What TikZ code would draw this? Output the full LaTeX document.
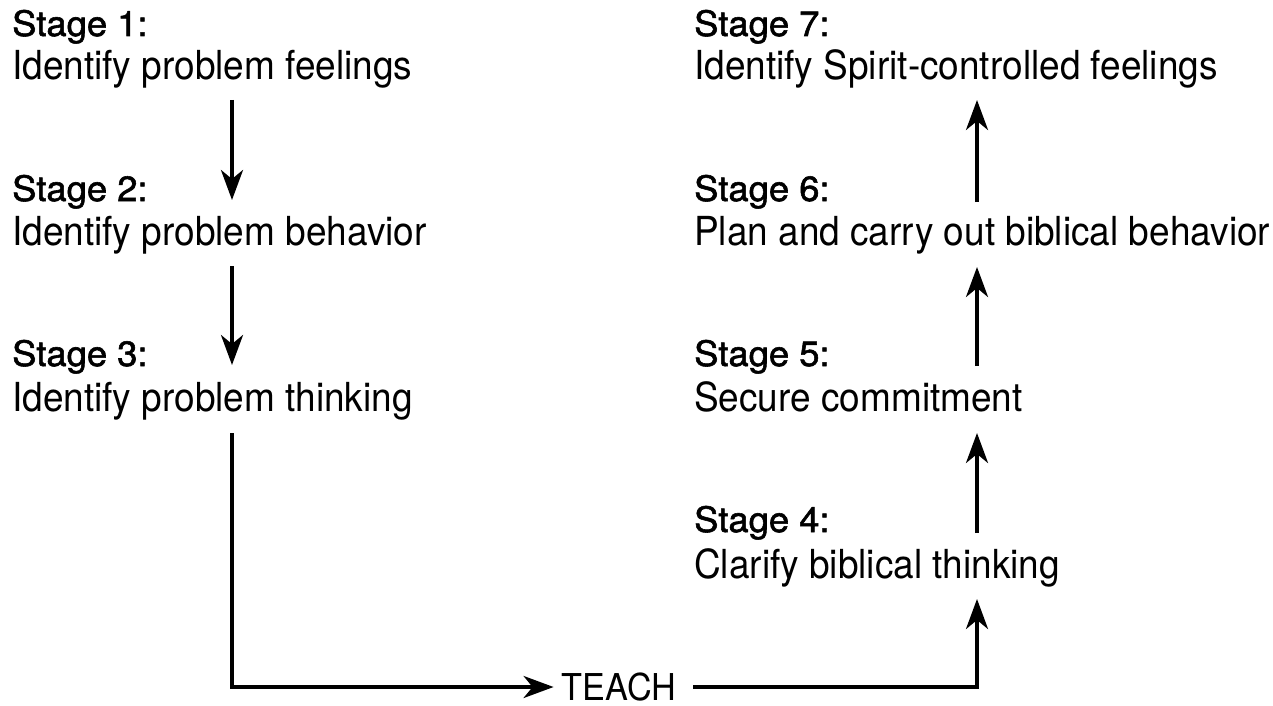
\documentclass[tikz,border=0pt]{standalone}
\usepackage{fontspec}
\setmainfont{TeX Gyre Heros}
\newfontfamily\descfont[FakeStretch=0.925]{TeX Gyre Heros}
\newfontfamily\labelfont[FakeBold=1.6,FakeStretch=1.04]{TeX Gyre Heros}
\usetikzlibrary{arrows.meta,calc}

\tikzset{
  stagelabel/.style={anchor=base west, inner sep=0pt,
    font=\labelfont\fontsize{35}{40}\selectfont},
  stagetext/.style={anchor=base west, inner sep=0pt,
    font=\descfont\fontsize{40}{48}\selectfont},
  teachlabel/.style={anchor=center, inner sep=0pt,
    font=\descfont\fontsize{37}{44}\selectfont},
  flow/.style={line width=3.6pt,
    -{Stealth[length=30pt,width=22pt,inset=9pt]}},
}

\begin{document}
\begin{tikzpicture}[x=1pt,y=-1pt]
  \useasboundingbox (0,0) rectangle (1273,706);

  % columns of the connectors
  \coordinate (colL) at (232,0);
  \coordinate (colR) at (977,0);

  % left column: stages 1-3
  \node[stagelabel] (l1) at (12,36)  {Stage 1:};
  \node[stagetext]  (d1) at (12,80)  {Identify problem feelings};
  \node[stagelabel] (l2) at (12,201) {Stage 2:};
  \node[stagetext]  (d2) at (12,245) {Identify problem behavior};
  \node[stagelabel] (l3) at (12,366) {Stage 3:};
  \node[stagetext]  (d3) at (12,411) {Identify problem thinking};

  % right column: stages 4-7
  \node[stagelabel] (l7) at (694,36)  {Stage 7:};
  \node[stagetext]  (d7) at (694,80)  {Identify Spirit-controlled feelings};
  \node[stagelabel] (l6) at (694,201) {Stage 6:};
  \node[stagetext]  (d6) at (694,245) {Plan and carry out biblical behavior};
  \node[stagelabel] (l5) at (694,366) {Stage 5:};
  \node[stagetext]  (d5) at (694,411) {Secure commitment};
  \node[stagelabel] (l4) at (694,532) {Stage 4:};
  \node[stagetext]  (d4) at (694,578) {Clarify biblical thinking};

  % bottom label
  \node[teachlabel] (teach) at (619,687) {TEACH};
  \coordinate (cornerL) at (colL |- teach.center);
  \coordinate (cornerR) at (colR |- teach.center);

  % downward flow on the left
  \draw[flow] ($(d1.base -| colL)+(0,20)$) -- ($(l2.base -| colL)+(0,-1)$);
  \draw[flow] ($(d2.base -| colL)+(0,21)$) -- ($(l3.base -| colL)+(0,-1)$);

  % from stage 3 down and across to TEACH
  \draw[flow] ($(d3.base -| colL)+(0,22)$) -- (cornerL) -- ([xshift=-8pt]teach.west);

  % from TEACH across and up to stage 4
  \draw[flow] ([xshift=17pt]teach.east) -- (cornerR) -- ($(d4.base -| colR)+(0,21)$);

  % upward flow on the right
  \draw[flow] ($(l4.base -| colR)+(0,1)$) -- ($(d5.base -| colR)+(0,22)$);
  \draw[flow] ($(l5.base -| colR)+(0,0)$) -- ($(d6.base -| colR)+(0,22)$);
  \draw[flow] ($(l6.base -| colR)+(0,1)$) -- ($(d7.base -| colR)+(0,20)$);
\end{tikzpicture}
\end{document}
